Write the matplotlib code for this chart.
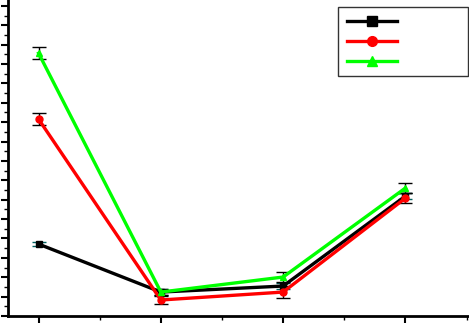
import matplotlib
matplotlib.use("Agg")
import matplotlib.pyplot as plt
from matplotlib.ticker import MultipleLocator
from matplotlib.lines import Line2D

x = [1, 2, 3, 4]
black_vals = [7.42, 2.47, 3.09, 12.37]
red_vals = [20.31, 1.65, 2.47, 12.16]
green_vals = [27.11, 2.47, 4.02, 13.20]
black_err = [0.2, 0.3, 0.3, 0.3]
red_err = [0.6, 0.4, 0.6, 0.5]
green_err = [0.6, 0.3, 0.5, 0.5]
labels = ["                ", "                ", "                "]

fig = plt.figure(figsize=(4.69, 3.25), dpi=100)
ax = fig.add_axes([8/469, 9/325, 461/469, 316/325])

series = [
    (black_vals, black_err, "black", "s", labels[0]),
    (red_vals, red_err, "red", "o", labels[1]),
    (green_vals, green_err, "#00ff00", "^", labels[2]),
]
handles = []
for vals, err, col, mk, lab in series:
    ax.errorbar(x, vals, yerr=err, color=col, marker=mk, markersize=5,
                linewidth=2.4, elinewidth=1, capsize=5, capthick=1,
                ecolor="black" if col != "black" else "#006060")
    handles.append(Line2D([], [], color=col, marker=mk, markersize=7,
                          linewidth=2.4, label=lab))

ax.set_xlim(0.75, 4.52)
ax.set_ylim(0, 32.6)
ax.xaxis.set_major_locator(MultipleLocator(1))
ax.xaxis.set_minor_locator(MultipleLocator(0.5))
ax.yaxis.set_major_locator(MultipleLocator(2))
ax.yaxis.set_minor_locator(MultipleLocator(1))
ax.tick_params(which="major", direction="out", length=5, width=1.5,
               labelbottom=False, labelleft=False)
ax.tick_params(which="minor", direction="out", length=3, width=1)
for s in ["top", "right"]:
    ax.spines[s].set_visible(False)
for s in ["left", "bottom"]:
    ax.spines[s].set_linewidth(2)

leg = ax.legend(handles=handles, loc="upper right", bbox_to_anchor=(0.998, 0.978),
                frameon=True, fancybox=False, edgecolor="black",
                handlelength=4.5, handletextpad=0.5, fontsize=8, borderpad=0.85,
                labelspacing=0.9, borderaxespad=0)
leg.get_frame().set_linewidth(1)

fig.savefig("out.png", dpi=100)
